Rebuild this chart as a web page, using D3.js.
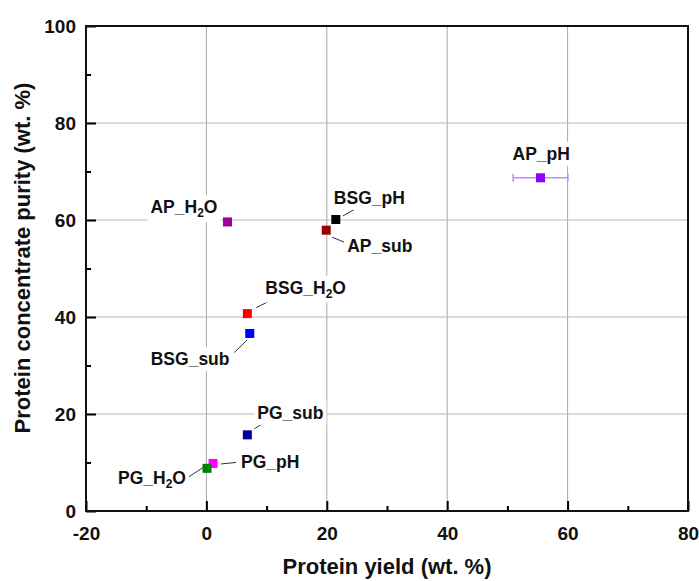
<!DOCTYPE html>
<html>
<head>
<meta charset="utf-8"/>
<title>Protein yield vs purity</title>
<script src="https://cdn.jsdelivr.net/npm/d3@7"></script>
<style>
  body { margin: 0; background: #fff; }
  svg text { font-family: "Liberation Sans", Arial, sans-serif; font-weight: bold; fill: #111; }
</style>
</head>
<body>
<svg id="chart" width="699" height="581"></svg>
<script>
// data
var names   = ["AP_pH", "AP_H2O", "BSG_pH", "AP_sub", "BSG_H2O", "BSG_sub", "PG_sub", "PG_pH", "PG_H2O"];
var yieldV  = [55.5, 3.5, 21.5, 19.9, 6.8, 7.2, 6.8, 1.1, 0.1];
var purityV = [68.7, 59.6, 60.1, 57.9, 40.7, 36.6, 15.7, 9.8, 8.8];
var yieldErr = [4.55, 0, 0.5, 0, 0, 0.5, 0.5, 0, 0];
var colors  = ["#8f00ff", "#990099", "#000000", "#990000", "#ff0000", "#0000ff", "#000099", "#ff00ff", "#008000"];
var errColors = ["#c68cff", "#990099", "#555555", "#990000", "#ff0000", "#6a6aff", "#5a5ab8", "#ff00ff", "#008000"];
var xTicks = [-20, 0, 20, 40, 60, 80];
var yTicks = [0, 20, 40, 60, 80, 100];

// label placement, pixel offsets from each marker: text start, leader line
var labelLayout = [
  { dx: -28, dy: -18, leader: null },
  { dx: -77, dy: -9,  leader: null },
  { dx: -2,  dy: -15.5, leader: [7, -3.5, 22, -12] },
  { dx: 21,  dy: 22,  leader: [6, 7, 18, 12] },
  { dx: 18,  dy: -20, leader: [9, -6, 21, -12] },
  { dx: -99, dy: 31.5, leader: [-15.5, 19, -2.5, 6.5] },
  { dx: 10,  dy: -16, leader: [7, -6, 21, -15] },
  { dx: 28,  dy: 4.5, leader: [8, 0.5, 23, -1] },
  { dx: -89, dy: 16,  leader: [-18, 8.4, -3.7, -1] }
];

var svg = d3.select("#chart"),
    margin = {top: 26, right: 11, bottom: 70, left: 86},
    width = +svg.attr("width") - margin.left - margin.right,
    height = +svg.attr("height") - margin.top - margin.bottom,
    g = svg.append("g").attr("transform", "translate(" + margin.left + "," + margin.top + ")");

var x = d3.scaleLinear().domain([-20, 80]).range([0, width]);
var y = d3.scaleLinear().domain([0, 100]).range([height, 0]);

// grid
g.append("g").selectAll("line").data([0, 20, 40, 60]).enter().append("line")
    .attr("x1", function(d) { return x(d); }).attr("x2", function(d) { return x(d); })
    .attr("y1", 0).attr("y2", height)
    .attr("stroke", "#a8a8a8").attr("stroke-width", 1);
g.append("g").selectAll("line").data([20, 40, 60, 80]).enter().append("line")
    .attr("y1", function(d) { return y(d); }).attr("y2", function(d) { return y(d); })
    .attr("x1", 0).attr("x2", width)
    .attr("stroke", "#b8b8b8").attr("stroke-width", 1);

// axes with inward ticks
var plain = function(d) { return String(d); };
var xAxis = g.append("g")
    .attr("transform", "translate(0," + height + ")")
    .call(d3.axisBottom(x).tickValues(xTicks).tickFormat(plain).tickSize(-10).tickPadding(16));
var xMinor = g.append("g")
    .attr("transform", "translate(0," + height + ")")
    .call(d3.axisBottom(x).tickValues(d3.range(-10, 80, 20)).tickSize(-5).tickFormat(""));
var yAxis = g.append("g")
    .call(d3.axisLeft(y).tickValues(yTicks).tickFormat(plain).tickSize(-10).tickPadding(10));
var yMinor = g.append("g")
    .call(d3.axisLeft(y).tickValues(d3.range(10, 100, 20)).tickSize(-5).tickFormat(""));

[xAxis, xMinor, yAxis, yMinor].forEach(function(a) {
  a.select(".domain").remove();
  a.selectAll(".tick line").attr("stroke", "#000").attr("stroke-width", 2);
  a.selectAll("text").style("font-size", "19px").attr("fill", "#111");
});
xAxis.selectAll("text").attr("dy", "0.71em");

// frame
g.append("rect")
    .attr("width", width).attr("height", height)
    .attr("fill", "none").attr("stroke", "#111").attr("stroke-width", 2);

// axis titles
svg.append("text")
    .attr("x", margin.left + width / 2).attr("y", 574)
    .attr("text-anchor", "middle").style("font-size", "22px")
    .text("Protein yield (wt. %)");
svg.append("text")
    .attr("transform", "translate(30," + 258 + ") rotate(-90)")
    .attr("text-anchor", "middle").style("font-size", "22px")
    .text("Protein concentrate purity (wt. %)");

var pts = names.map(function(n, i) {
  return { name: n, px: x(yieldV[i]), py: y(purityV[i]), i: i };
});

// leader lines
var leaders = g.append("g");
pts.forEach(function(p) {
  var L = labelLayout[p.i].leader;
  if (!L) return;
  leaders.append("line")
      .attr("x1", p.px + L[0]).attr("y1", p.py + L[1])
      .attr("x2", p.px + L[2]).attr("y2", p.py + L[3])
      .attr("stroke", "#333").attr("stroke-width", 1);
});

// labels with white boxes
var labels = g.append("g");
pts.forEach(function(p) {
  var lay = labelLayout[p.i];
  var lg = labels.append("g");
  var t = lg.append("text")
      .attr("x", p.px + lay.dx).attr("y", p.py + lay.dy)
      .style("font-size", "17.5px");
  var parts = p.name.split("H2O");
  if (parts.length > 1) {
    t.append("tspan").text(parts[0] + "H");
    t.append("tspan").attr("dy", 4).style("font-size", "12px").text("2");
    t.append("tspan").attr("dy", -4).text("O");
  } else {
    t.text(p.name);
  }
  var bb = t.node().getBBox();
  lg.insert("rect", "text")
      .attr("x", bb.x - 3).attr("y", bb.y - 2)
      .attr("width", bb.width + 6).attr("height", bb.height + 4)
      .attr("fill", "#fff");
});

// error bars
var eb = g.append("g");
pts.forEach(function(p) {
  var e = yieldErr[p.i];
  if (!e) return;
  var x0 = x(yieldV[p.i] - e), x1 = x(yieldV[p.i] + e);
  eb.append("line").attr("x1", x0).attr("x2", x1).attr("y1", p.py).attr("y2", p.py)
      .attr("stroke", errColors[p.i]).attr("stroke-width", 1.5);
  [x0, x1].forEach(function(xx) {
    eb.append("line").attr("x1", xx).attr("x2", xx).attr("y1", p.py - 4).attr("y2", p.py + 4)
        .attr("stroke", errColors[p.i]).attr("stroke-width", 1.5);
  });
});

// markers
g.append("g").selectAll("rect").data(pts).enter().append("rect")
    .attr("x", function(d) { return d.px - 4.5; })
    .attr("y", function(d) { return d.py - 4.5; })
    .attr("width", 9).attr("height", 9)
    .attr("fill", function(d) { return colors[d.i]; });
</script>
</body>
</html>
